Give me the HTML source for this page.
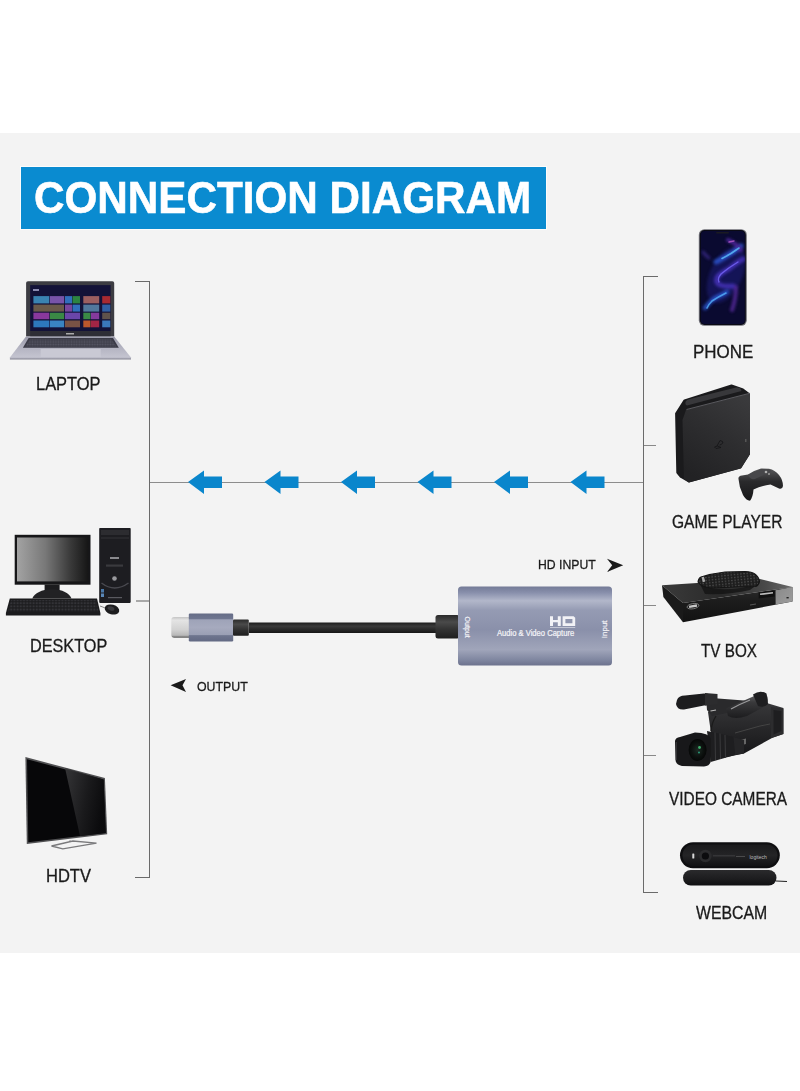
<!DOCTYPE html>
<html><head><meta charset="utf-8">
<style>
html,body{margin:0;padding:0;width:800px;height:1091px;background:#fff;overflow:hidden;position:relative}
.a{position:absolute}
.bg{left:0;top:133px;width:800px;height:820px;background:#f3f3f3}
.title{left:21px;top:167px;width:525px;height:62px;background:#0a8bd0;box-shadow:0 0 0 1px #fcfcfc}
.tt{left:34px;top:171.5px;-webkit-text-stroke:0.6px #fff;font:bold 45px "Liberation Sans",sans-serif;color:#fff;white-space:nowrap;transform-origin:0 0;transform:scaleX(0.938);line-height:52px}
.lbl{font:17.5px "Liberation Sans",sans-serif;color:#1a1a1a;-webkit-text-stroke:0.3px #1a1a1a;white-space:nowrap;line-height:20px;transform-origin:0 0}
.ln{background:#6a6a6a}
</style></head><body>
<div class="a bg"></div>
<div class="a title"></div>
<div class="a tt">CONNECTION DIAGRAM</div>

<!-- left bracket -->
<div class="a ln" style="left:149px;top:281px;width:1px;height:597px"></div>
<div class="a ln" style="left:135px;top:281px;width:15px;height:1px"></div>
<div class="a ln" style="left:135px;top:877px;width:15px;height:1px"></div>
<div class="a ln" style="left:136px;top:600px;width:13px;height:2px;background:#a8a8a8"></div>
<!-- main line -->
<div class="a" style="left:150px;top:482px;width:494px;height:1px;background:#8c8c8c"></div>
<!-- right bracket -->
<div class="a ln" style="left:643px;top:276px;width:1px;height:617px"></div>
<div class="a ln" style="left:643px;top:276px;width:15px;height:1px"></div>
<div class="a ln" style="left:643px;top:892px;width:15px;height:1px"></div>
<div class="a ln" style="left:644px;top:445px;width:12px;height:1px;background:#888"></div>
<div class="a ln" style="left:644px;top:605px;width:12px;height:1px;background:#888"></div>
<div class="a ln" style="left:644px;top:755px;width:12px;height:1px;background:#888"></div>

<!-- arrows -->
<svg class="a" style="left:0;top:0" width="800" height="1091">
  <g fill="#0a86cc">
    <path id="arr" d="M188 482 L204 470.5 L204 476.5 L222 476.5 L222 488 L204 488 L204 494 Z"/>
    <use href="#arr" x="76.5"/>
    <use href="#arr" x="153"/>
    <use href="#arr" x="229.5"/>
    <use href="#arr" x="306"/>
    <use href="#arr" x="382.5"/>
  </g>
  <g fill="#1a1a1a">
    <path d="M607 558.8 L623.2 565.3 L607 572 L612.2 565.3 Z"/>
    <path d="M186 679 L170.6 685.3 L186 692 L182.5 685.3 Z"/>
  </g>
</svg>

<!-- labels -->
<div class="a lbl" id="l-laptop" style="left:36px;top:374.0px;transform:scaleX(0.939)">LAPTOP</div>
<div class="a lbl" id="l-desktop" style="left:30px;top:636.0px;transform:scaleX(0.927)">DESKTOP</div>
<div class="a lbl" id="l-hdtv" style="left:46px;top:865.5px;transform:scaleX(0.943)">HDTV</div>
<div class="a lbl" id="l-phone" style="left:693px;top:342.0px;transform:scaleX(0.968)">PHONE</div>
<div class="a lbl" id="l-game" style="left:672px;top:512.0px;transform:scaleX(0.889)">GAME PLAYER</div>
<div class="a lbl" id="l-tvbox" style="left:701px;top:641.0px;transform:scaleX(0.871)">TV BOX</div>
<div class="a lbl" id="l-video" style="left:669px;top:788.5px;transform:scaleX(0.880)">VIDEO CAMERA</div>
<div class="a lbl" id="l-webcam" style="left:696px;top:903.0px;transform:scaleX(0.904)">WEBCAM</div>
<div class="a lbl" id="l-hdin" style="left:538px;top:555.0px;font-size:13.5px;transform:scaleX(0.905)">HD INPUT</div>
<div class="a lbl" id="l-out" style="left:197px;top:676.5px;font-size:13.5px;transform:scaleX(0.915)">OUTPUT</div>

<!-- cable & capture device -->
<svg class="a" style="left:0;top:0" width="800" height="1091">
  <defs>
    <linearGradient id="gtip" x1="0" y1="0" x2="0" y2="1">
      <stop offset="0" stop-color="#c4c4c4"/><stop offset="0.15" stop-color="#e4e4e4"/>
      <stop offset="0.6" stop-color="#d2d2d2"/><stop offset="0.88" stop-color="#b8b8b8"/><stop offset="1" stop-color="#555"/>
    </linearGradient>
    <linearGradient id="ghous" x1="0" y1="0" x2="0" y2="1">
      <stop offset="0" stop-color="#656c86"/><stop offset="0.2" stop-color="#6f7690"/>
      <stop offset="0.22" stop-color="#9ea3b8"/><stop offset="0.5" stop-color="#a6aabe"/><stop offset="0.76" stop-color="#9a9fb4"/>
      <stop offset="0.79" stop-color="#6e758e"/><stop offset="1" stop-color="#626983"/>
    </linearGradient>
    <linearGradient id="grel" x1="0" y1="0" x2="0" y2="1">
      <stop offset="0" stop-color="#2a2a2a"/><stop offset="0.3" stop-color="#4a4a4a"/><stop offset="0.6" stop-color="#333"/><stop offset="1" stop-color="#1e1e1e"/>
    </linearGradient>
    <linearGradient id="gcab" x1="0" y1="0" x2="0" y2="1">
      <stop offset="0" stop-color="#1c1c1c"/><stop offset="0.35" stop-color="#3a3a3a"/><stop offset="1" stop-color="#161616"/>
    </linearGradient>
    <linearGradient id="gdev" x1="0" y1="0" x2="0" y2="1">
      <stop offset="0" stop-color="#737a96"/><stop offset="0.08" stop-color="#8990ac"/>
      <stop offset="0.18" stop-color="#b2b7ca"/><stop offset="0.3" stop-color="#959bb3"/>
      <stop offset="0.55" stop-color="#8a90aa"/><stop offset="0.8" stop-color="#a0a5ba"/>
      <stop offset="0.93" stop-color="#7f86a0"/><stop offset="1" stop-color="#6c728d"/>
    </linearGradient>
  </defs>
  <rect x="249" y="622.5" width="190" height="10.5" fill="url(#gcab)"/>
  <path d="M171.3 620 Q171.3 617 174.3 617 L189.5 617 L189.5 637.8 L174.3 637.8 Q171.3 637.8 171.3 634.8 Z" fill="url(#gtip)"/>
  <rect x="188.8" y="613.5" width="44.4" height="28" rx="1.2" fill="url(#ghous)"/>
  <rect x="233" y="619.4" width="15.8" height="16.3" rx="1" fill="url(#grel)"/>
  <rect x="435.5" y="615" width="24" height="23.5" rx="2.5" fill="url(#grel)"/>
  <rect x="458" y="586.5" width="154" height="79" rx="3.5" fill="url(#gdev)"/>
  <g fill="#f2f2f6" font-family="Liberation Sans, sans-serif">
    <text x="0" y="0" font-size="8.6" transform="translate(497 636.2) scale(0.885 1)" stroke="#f2f2f6" stroke-width="0.25">Audio &amp; Video Capture</text>
    <text x="0" y="0" font-size="7" transform="translate(465.2 616.6) rotate(90)" stroke="#f2f2f6" stroke-width="0.2">Output</text>
    <text x="0" y="0" font-size="8" transform="translate(607.3 638.2) rotate(-90)" stroke="#f2f2f6" stroke-width="0.2">Input</text>
  </g>
  <!-- HD logo -->
  <path fill="#f2f2f6" fill-rule="evenodd" d="M550 616.2 H553 V619.9 H557.8 V616.2 H560.8 V626 H557.8 V622.3 H553 V626 H550 Z M562.6 616.2 H573.6 L575.2 617.8 V626 H562.6 Z M565.4 619 V623.2 H572.4 V619 Z"/>
  <rect x="550" y="627" width="25.2" height="0.8" fill="#d0d2de"/>
</svg>

<!-- laptop -->
<svg class="a" style="left:0;top:0" width="800" height="1091">
  <defs>
    <pattern id="plk" width="2.6" height="2.4" patternUnits="userSpaceOnUse"><rect width="2.6" height="2.4" fill="#3a3a46"/><rect x="0.4" y="0.4" width="1.8" height="1.6" fill="#5a5a68"/></pattern>
    <linearGradient id="gdeck" x1="0" y1="0" x2="0" y2="1">
      <stop offset="0" stop-color="#9a9aaa"/><stop offset="0.5" stop-color="#b4b4c2"/><stop offset="0.9" stop-color="#c4c4d0"/><stop offset="1" stop-color="#7e7e8c"/>
    </linearGradient>
  </defs>
  <path d="M26.1 283 Q26.1 281.2 28 281.2 L112.4 281.2 Q114.2 281.2 114.2 283 L114.2 336.6 L26.1 336.6 Z" fill="#3c3c42"/>
  <rect x="30.2" y="285.1" width="80.4" height="46" fill="#131238"/>
  <rect x="30.2" y="331" width="80.4" height="5.5" fill="#2e2e36"/>
  <path d="M26 336.4 L114.2 336.4 L131 357.5 L131 359.6 L9.9 359.6 L9.9 357.5 Z" fill="url(#gdeck)"/>
  <path d="M28.6 338 L113 338 L118.8 347.8 L22.9 347.8 Z" fill="#3a3a46"/>
  <path d="M30 339.5 L111.5 339.5 L116.5 346.5 L25 346.5 Z" fill="url(#plk)" opacity="0.9"/>
  <rect x="40.7" y="349" width="60" height="8" fill="#c9c9d4"/>
  <g>
    <rect x="33.4" y="296.1" width="15.9" height="7.3" fill="#3a83b2"/>
    <rect x="49.9" y="296.1" width="14.3" height="7.3" fill="#7854a9"/>
    <rect x="65" y="296.1" width="7" height="7.3" fill="#316fbc"/>
    <rect x="72.5" y="296.1" width="7.5" height="7.3" fill="#2d8441"/>
    <rect x="83.3" y="296.1" width="15.9" height="7.3" fill="#9c5f60"/>
    <rect x="102.2" y="296.1" width="8.1" height="7.3" fill="#a82a31"/>
    <rect x="33.4" y="304.6" width="30.6" height="7" fill="#6b5a4b"/>
    <rect x="65" y="304.6" width="7" height="7" fill="#78469d"/>
    <rect x="72.5" y="304.6" width="7.5" height="7" fill="#316fbc"/>
    <rect x="83.3" y="304.6" width="15.9" height="7" fill="#52789d"/>
    <rect x="102.2" y="304.6" width="8.1" height="7" fill="#315fa3"/>
    <rect x="33.4" y="312.7" width="15.9" height="6.5" fill="#89389d"/>
    <rect x="49.9" y="312.7" width="14.3" height="6.5" fill="#3a8945"/>
    <rect x="65" y="312.7" width="15" height="6.5" fill="#6b46a9"/>
    <rect x="83.3" y="312.7" width="7.2" height="6.5" fill="#3a8945"/>
    <rect x="91" y="312.7" width="8.2" height="6.5" fill="#843a9d"/>
    <rect x="102.2" y="312.7" width="8.1" height="6.5" fill="#5f524b"/>
    <rect x="33.4" y="320.5" width="15.9" height="6.8" fill="#2d78bc"/>
    <rect x="49.9" y="320.5" width="14.3" height="6.8" fill="#3a84c2"/>
    <rect x="65" y="320.5" width="15" height="6.8" fill="#785245"/>
    <rect x="83.3" y="320.5" width="7.2" height="6.8" fill="#bb572c"/>
    <rect x="91" y="320.5" width="8.2" height="6.8" fill="#a22545"/>
    <rect x="102.2" y="320.5" width="8.1" height="6.8" fill="#3a78bc"/>
  </g>
  <rect x="33" y="289" width="6" height="2" fill="#8a8ab0"/>
  <rect x="66" y="333" width="8" height="1.5" fill="#aaa"/>
</svg>

<!-- desktop -->
<svg class="a" style="left:0;top:0" width="800" height="1091">
  <defs>
    <linearGradient id="gmon" x1="0" y1="0" x2="1" y2="0">
      <stop offset="0" stop-color="#a3a3a3"/><stop offset="0.4" stop-color="#787878"/><stop offset="0.75" stop-color="#3a3a3a"/><stop offset="1" stop-color="#161616"/>
    </linearGradient>
    <pattern id="pkeys" width="3.2" height="3.2" patternUnits="userSpaceOnUse">
      <rect width="3.2" height="3.2" fill="#1b1b1d"/><rect x="0.5" y="0.5" width="2.2" height="2.1" fill="#333337"/>
    </pattern>
  </defs>
  <rect x="14.7" y="534.8" width="75.8" height="49.9" fill="#161618"/>
  <rect x="17" y="537.5" width="71" height="43.9" fill="url(#gmon)"/>
  <rect x="44.6" y="584.5" width="15" height="7" fill="#1c1c1e"/>
  <path d="M32.2 598.5 Q36 590 52 589.3 Q68 590 71.5 598.5 Z" fill="#222224"/>
  <path d="M9.8 598.5 L97 598.5 L100.4 613 L100.4 615.5 L5.9 615.5 L5.9 613 Z" fill="#1b1b1d"/>
  <path d="M11 600 L96 600 L98.5 611.5 L8 611.5 Z" fill="url(#pkeys)"/>
  <rect x="99.2" y="528" width="31.5" height="74.9" rx="0.8" fill="#1d1d21"/>
  <rect x="101" y="530" width="28" height="5" fill="#2c2c30"/>
  <rect x="101" y="537" width="28" height="2" fill="#28282c"/>
  <rect x="110" y="557" width="9" height="2" fill="#8a8a8e"/>
  <rect x="106" y="564.5" width="17" height="2.2" fill="#3a3a3e"/>
  <circle cx="114.5" cy="578.5" r="2.3" fill="#9a9a9e"/>
  <path d="M101.5 583 Q114.5 593 128.5 583" fill="none" stroke="#4a4a50" stroke-width="1.4"/>
  <rect x="101" y="589" width="3" height="3.5" fill="#4a78a8"/>
  <rect x="101" y="593.5" width="3" height="3.5" fill="#5a88b8"/>
  <rect x="108" y="597" width="14" height="1.2" fill="#5a5a60"/>
  <ellipse cx="112" cy="609.5" rx="7.4" ry="4.8" transform="rotate(15 112 609.5)" fill="#1c1c1e"/>
  <ellipse cx="111" cy="608.5" rx="3.5" ry="2" transform="rotate(15 111 608.5)" fill="#3a3a3e"/>
  <path d="M100 606 Q103 607 105 608" stroke="#333" stroke-width="0.6" fill="none"/>
</svg>

<!-- HDTV -->
<svg class="a" style="left:0;top:0" width="800" height="1091">
  <defs>
    <linearGradient id="gtvg" x1="0" y1="0" x2="1" y2="0.3">
      <stop offset="0" stop-color="#3a3a3c"/><stop offset="0.6" stop-color="#1c1c1e"/><stop offset="1" stop-color="#0c0c0e"/>
    </linearGradient>
  </defs>
  <path d="M25.4 757.1 L104.9 778 L107.2 834.3 L26.8 843.9 Z" fill="#505052"/>
  <path d="M27 759.3 L103.6 779.4 L105.8 833.1 L28.3 842.3 Z" fill="#070709"/>
  <path d="M65 768 L103.6 779.4 L105.8 833.1 L80 836.1 Z" fill="url(#gtvg)" opacity="0.9"/>
  <path d="M70 840.6 L70 842" stroke="#777" stroke-width="1.5"/>
  <path d="M51.5 846 L62.8 848.8 L96.5 843.2 L72.9 841 Z" fill="none" stroke="#7a7a7c" stroke-width="1.3"/>
</svg>

<!-- phone -->
<svg class="a" style="left:0;top:0" width="800" height="1091">
  <defs>
    <filter id="fb1" x="-50%" y="-50%" width="200%" height="200%"><feGaussianBlur stdDeviation="1.6"/></filter>
    <filter id="fb2" x="-50%" y="-50%" width="200%" height="200%"><feGaussianBlur stdDeviation="0.6"/></filter>
    <clipPath id="cph"><rect x="700.5" y="230.5" width="44.8" height="94" rx="4"/></clipPath>
  </defs>
  <rect x="698.8" y="229.2" width="48" height="96.6" rx="5.5" fill="#6e6e76"/>
  <rect x="699.8" y="230.1" width="46" height="94.8" rx="4.8" fill="#0a0a14"/>
  <rect x="700.8" y="231" width="44" height="93" rx="4" fill="#0a0a30"/>
  <g clip-path="url(#cph)">
    <ellipse cx="726" cy="275" rx="16" ry="30" transform="rotate(25 726 275)" fill="#2a2aa0" opacity="0.35" filter="url(#fb1)"/>
    <g filter="url(#fb1)" fill="none" stroke-linecap="round" opacity="0.8">
      <path d="M741 246 Q734 252 725 257 Q720 260 716 262" stroke="#2f5ad8" stroke-width="5"/>
      <path d="M728 240 Q736 243 741 250" stroke="#5a2ab0" stroke-width="4"/>
      <path d="M743 259 Q736 263 729.5 268.4 Q722 272 718 276 Q714 282 720 285 Q726 287 733 286" stroke="#4a34c0" stroke-width="5"/>
      <path d="M727 292 Q722 295 715 298 Q709 302 705 308" stroke="#2a5ad8" stroke-width="4.5"/>
      <path d="M736 287 Q736 298 732 310" stroke="#5a2aa0" stroke-width="4"/>
      <path d="M703 252 Q706 256 709 258" stroke="#3a2a88" stroke-width="3"/>
    </g>
    <g filter="url(#fb2)" fill="none" stroke-linecap="round" opacity="0.75">
      <path d="M739 248 Q731 254 722 258.5" stroke="#60c8ff" stroke-width="1.6"/>
      <path d="M738 262 Q728 268 721 274 Q717 279 719 282" stroke="#7a6aff" stroke-width="1.4"/>
      <path d="M726 293 Q718 297 712 301 Q708 305 707 308" stroke="#58b8ff" stroke-width="1.6"/>
      <path d="M729 242 L734 241" stroke="#c060d0" stroke-width="1.4"/>
    </g>
  </g>
  <rect x="716" y="232" width="13" height="1.5" rx="0.7" fill="#1a1a22"/>
</svg>

<!-- game console -->
<svg class="a" style="left:0;top:0" width="800" height="1091">
  <defs>
    <linearGradient id="gps" x1="0.8" y1="0" x2="0.3" y2="1">
      <stop offset="0" stop-color="#3a3a3c"/><stop offset="0.45" stop-color="#2e2e30"/><stop offset="1" stop-color="#222224"/>
    </linearGradient>
    <linearGradient id="gpad" x1="0" y1="0" x2="0" y2="1">
      <stop offset="0" stop-color="#5a5a5c"/><stop offset="0.4" stop-color="#2a2a2c"/><stop offset="1" stop-color="#161618"/>
    </linearGradient>
  </defs>
  <path d="M676.1 413.6 L684.5 400.4 L731.5 385.5 L743 389.5 L749 394 L749 454 L740.5 467.5 L688.8 481.5 L681 477 L677.3 472.5 Z" fill="#1a1a1c" stroke="#1a1a1c" stroke-width="2" stroke-linejoin="round"/>
  <path d="M686 410 L750 393.4 L750 454 L741 468.3 L688.8 482.5 L684 479 L682.5 420 Z" fill="url(#gps)"/>
  <path d="M686.5 409.5 L750 393.2" stroke="#6a6a6e" stroke-width="0.8"/>
  <path d="M685.5 402 Q686 400 690 399 L736 387.5 Q740.5 387 741 389.5 L741.5 391 L687 405.5 Q685 405 685.5 402 Z" fill="#38383b"/>
  <path d="M717 446 L720 440.5 L722.5 441.5 Q724 443 721 444.5 L719.5 445 M714.5 447 L717.5 446 L721 447.5 L716 448.5 Z" fill="none" stroke="#161618" stroke-width="0.9"/>
  <rect x="745" y="439" width="1.5" height="3" fill="#555"/>
  <path d="M738.5 479 Q738 476 742 475.5 L748 474.5 Q755 470 761 468.5 L769 468.8 Q775 470 779 475 Q783 480 783 486 Q782.5 489.5 779 488.5 L770.5 484.5 Q762 485.5 753.5 489.5 Q753 497 750 500.8 Q746 500.5 743 495 Q739 487 738.5 479 Z" fill="url(#gpad)"/>
  <path d="M748 475 L761 469 L769 469.3 L772 471 L755 479 Q750 480 748 475 Z" fill="#47474a"/>
  <circle cx="766" cy="472" r="1.3" fill="#b0b0b0"/>
  <circle cx="769" cy="474" r="1" fill="#999"/>
</svg>

<!-- TV box -->
<svg class="a" style="left:0;top:0" width="800" height="1091">
  <defs>
    <linearGradient id="gtop" x1="0" y1="0" x2="1" y2="0">
      <stop offset="0" stop-color="#3a3a3a"/><stop offset="0.45" stop-color="#2a2a2a"/><stop offset="0.8" stop-color="#4a4a4a"/><stop offset="1" stop-color="#6a6a6a"/>
    </linearGradient>
    <linearGradient id="gfront" x1="0" y1="0" x2="0" y2="1">
      <stop offset="0" stop-color="#2c2c2c"/><stop offset="0.4" stop-color="#1c1c1c"/><stop offset="1" stop-color="#121212"/>
    </linearGradient>
    <linearGradient id="gsil" x1="0" y1="0" x2="1" y2="1">
      <stop offset="0" stop-color="#8a8a8a"/><stop offset="1" stop-color="#9c9c9c"/>
    </linearGradient>
    <pattern id="pbtn" width="3.2" height="2.8" patternUnits="userSpaceOnUse" patternTransform="rotate(-6)">
      <rect width="3.2" height="2.8" fill="#1e1e1e"/><circle cx="1.6" cy="1.4" r="0.8" fill="#4e4e4e"/>
    </pattern>
  </defs>
  <path d="M662 585.2 L760 579 L792.5 587 L683 603 Z" fill="url(#gtop)"/>
  <path d="M662 585.2 L683 603 L683 622.2 L663.4 597 Z" fill="#1a1a1a"/>
  <path d="M683 603 L792.5 587 L792.5 601.5 L683 622.2 Z" fill="url(#gfront)"/>
  <path d="M775.6 590.3 L792.5 587 L792.5 601.5 L775.6 604.4 Z" fill="url(#gsil)"/>
  <path d="M758.7 592.5 L774.7 590.6 L774.7 596.5 L758.7 598.5 Z" fill="#101010"/>
  <rect x="760" y="592.8" width="13" height="1.6" fill="#bdbdbd" transform="rotate(-7 766 593.5)"/>
  <rect x="786.5" y="597" width="2.2" height="1.4" fill="#222"/>
  <ellipse cx="693" cy="606.2" rx="6" ry="2.6" transform="rotate(-10 693 606.2)" fill="none" stroke="#9a9a9a" stroke-width="0.7"/>
  <rect x="689" y="605" width="8" height="2.4" fill="#c8c8c8" transform="rotate(-10 693 606.2)"/>
  <rect x="750" y="604" width="6" height="1" fill="#555" transform="rotate(-8 753 604.5)"/>
  <path d="M700 584 Q715 592 740 588 Q752 586 758 584 L750 590 Q730 595 705 594 Z" fill="#141414" opacity="0.8"/>
  <path d="M698 582 Q698.5 578 701 577 Q712 573.5 725 572 L745 571.5 Q752 571.8 754.5 573.8 Q759 577 759.5 581.5 Q758.5 585.5 755.5 586.5 L735 587 Q722 587.5 711 588 Q701 587 698 582 Z" fill="url(#pbtn)"/>
  <path d="M698 582 Q698.5 578 701 577 Q712 573.5 725 572 L745 571.5 Q752 571.8 754.5 573.8 Q759 577 759.5 581.5 Q758.5 585.5 755.5 586.5 L735 587 Q722 587.5 711 588 Q701 587 698 582 Z" fill="none" stroke="#151515" stroke-width="1.1"/>
  <rect x="702" y="577" width="2.5" height="5" fill="#aaa" transform="rotate(-15 703 579)"/>
</svg>

<!-- video camera -->
<svg class="a" style="left:0;top:0" width="800" height="1091">
  <defs>
    <linearGradient id="gcam" x1="0" y1="0" x2="0" y2="1">
      <stop offset="0" stop-color="#38383a"/><stop offset="0.5" stop-color="#262628"/><stop offset="1" stop-color="#161618"/>
    </linearGradient>
    <linearGradient id="gvf" x1="0" y1="0" x2="0" y2="1">
      <stop offset="0" stop-color="#6a6a6c"/><stop offset="0.35" stop-color="#3a3a3c"/><stop offset="1" stop-color="#1c1c1e"/>
    </linearGradient>
    <radialGradient id="glens" cx="0.5" cy="0.5" r="0.55">
      <stop offset="0" stop-color="#1c2a24"/><stop offset="0.6" stop-color="#0c100e"/><stop offset="1" stop-color="#040404"/>
    </radialGradient>
  </defs>
  <!-- body right block -->
  <path d="M726 708 L765 702.5 L783.4 708 L783.4 734 L772 738 L744 753.5 L727 757 L712 740 L708 712 Z" fill="url(#gcam)"/>
  <path d="M771 707 L783.4 708.5 L783.4 734 L771 738 Z" fill="#2c2c2e"/>
  <path d="M773.5 710 L781.5 711 L781.5 731 L773.5 734.5 Z" fill="#1e1e20"/>
  <path d="M735 733 L760 726 L770 724" stroke="#444" stroke-width="1" fill="none"/>
  <path d="M740 740 L746 738.5 L746 744 L740 745.5 Z" fill="#666"/>
  <!-- handle + viewfinder -->
  <path d="M706 697 L718 698.5 L757 701.5 L760 707 L727 713 L712 716 L707 710 Z" fill="#2a2a2c"/>
  <path d="M726 708.5 L752 697 Q761 692 766 694 Q769 698 767 705 L747 716 Q735 720 728 716 Z" fill="url(#gvf)"/>
  <path d="M753 694.5 Q760 689.5 766.5 693.5 L768 704 Q764 708 758 706 Z" fill="#1e1e20"/>
  <path d="M731 709 Q740 704 750 700" stroke="#9a9a9c" stroke-width="1.2" fill="none"/>
  <path d="M710.5 711 L716 710" stroke="#bbb" stroke-width="1.2"/>
  <!-- mic -->
  <path d="M677 700 Q678.5 695.5 685 695.5 L704 693.5 Q712 693.5 712.5 698 L712.5 702.5 Q710 705 704 705.5 L684 709.5 Q677 710 676 704 Z" fill="#1c1c1e"/>
  <path d="M705 693 L717.5 694 L717.5 704.5 L705 705.5 Z" fill="#2c2c2e"/>
  <!-- cable -->
  <path d="M716 716 Q712 722 711 731" stroke="#1a1a1a" stroke-width="1.3" fill="none"/>
  <!-- lens barrel -->
  <path d="M707 731 L733.5 737 L735 755 L710.7 762 Z" fill="#1e1e20"/>
  <path d="M715 732.5 L715.5 760 M720 733.5 L720.5 759 M725 735 L725.5 758" stroke="#3a3a3c" stroke-width="1"/>
  <path d="M733.5 737 L744 740 L744 753.5 L735 755 Z" fill="#252527"/>
  <!-- lens hood -->
  <path d="M675 741 Q675.5 737.5 680 737 L695 732.5 Q709 733 710.8 738.5 L710.8 761 Q710 766 704 766.6 L682 766 Q675.5 764.5 675.5 760 Z" fill="#18181a"/>
  <ellipse cx="697.6" cy="750" rx="9" ry="11" fill="url(#glens)"/>
  <circle cx="699.5" cy="747.5" r="1.4" fill="#3fae6a"/>
  <circle cx="699" cy="752.5" r="1" fill="#2a9a7a"/>
  <path d="M676.3 742 L676.3 760" stroke="#3a3a3c" stroke-width="1"/>
</svg>

<!-- webcam -->
<svg class="a" style="left:0;top:0" width="800" height="1091">
  <defs>
    <linearGradient id="gwc" x1="0" y1="0" x2="0" y2="1">
      <stop offset="0" stop-color="#1a1a1c"/><stop offset="0.5" stop-color="#242426"/><stop offset="1" stop-color="#121214"/>
    </linearGradient>
    <linearGradient id="gwb" x1="0" y1="0" x2="0" y2="1">
      <stop offset="0" stop-color="#2a2a2c"/><stop offset="0.6" stop-color="#1c1c1e"/><stop offset="1" stop-color="#101012"/>
    </linearGradient>
  </defs>
  <path d="M776 881 Q782 881 787 881.5" stroke="#222" stroke-width="1.2" fill="none"/>
  <rect x="683" y="870" width="93.5" height="15.4" rx="7.7" fill="url(#gwb)"/>
  <rect x="680" y="842.3" width="99.8" height="26" rx="13" fill="#0e0e10"/>
  <rect x="682.5" y="844.5" width="95" height="21.5" rx="10.7" fill="url(#gwc)"/>
  <circle cx="705.4" cy="856" r="6.2" fill="#2c2c2e"/>
  <circle cx="705.4" cy="856" r="3.6" fill="#0c0c0e"/>
  <rect x="692.3" y="853.5" width="2" height="5" rx="0.6" fill="#d8d8d8"/>
  <rect x="713" y="855.2" width="22" height="1.2" fill="#3a3a3c"/>
  <text x="749.5" y="858.5" font-family="Liberation Sans, sans-serif" font-size="5" fill="#bdbdbd">logitech</text>
  <rect x="736" y="856" width="9" height="0.8" fill="#555"/>
</svg>

</body></html>
